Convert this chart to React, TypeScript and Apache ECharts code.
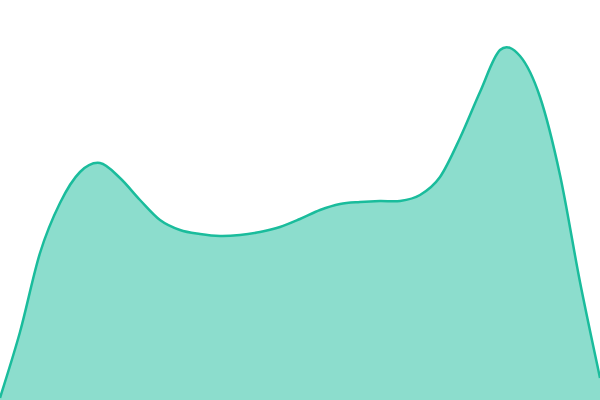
import { useEffect, useRef } from "react";
import * as echarts from "echarts";

// evenly spaced samples, left to right
const categories = [
  "0", "1", "2", "3", "4", "5", "6", "7", "8", "9", "10",
  "11", "12", "13", "14", "15", "16", "17", "18", "19", "20",
  "21", "22", "23", "24", "25", "26", "27", "28", "29", "30",
];
const heights = [
  2, 68, 147, 197, 228, 237, 222, 200, 180, 170, 166,
  164, 165, 168, 173, 181, 190, 196, 198, 199, 199,
  205, 223, 262, 308, 350, 344, 303, 225, 118, 22,
];

const LINE_COLOR = "#1abc9c";
const FILL_COLOR = "rgba(26, 188, 156, 0.5)";

// draws the whole curve once (on the first item) as a Catmull-Rom spline
// through the points placed by the axes
function renderCurve(params: any, api: any) {
  if (params.dataIndexInside !== 0) return null;
  const n = params.dataInsideLength;
  const pts: number[][] = [];
  for (let i = 0; i < n; i++) {
    pts.push(api.coord([api.value(0, i), api.value(1, i)]));
  }
  let d = `M${pts[0][0]},${pts[0][1]}`;
  for (let i = 0; i < n - 1; i++) {
    const p0 = pts[Math.max(0, i - 1)];
    const p1 = pts[i];
    const p2 = pts[i + 1];
    const p3 = pts[Math.min(n - 1, i + 2)];
    const c1x = p1[0] + (p2[0] - p0[0]) / 6;
    const c1y = p1[1] + (p2[1] - p0[1]) / 6;
    const c2x = p2[0] - (p3[0] - p1[0]) / 6;
    const c2y = p2[1] - (p3[1] - p1[1]) / 6;
    d += ` C${c1x},${c1y} ${c2x},${c2y} ${p2[0]},${p2[1]}`;
  }
  const base = api.coord([0, 0])[1];
  const area = `${d} L${pts[n - 1][0]},${base} L${pts[0][0]},${base} Z`;

  return {
    type: "group",
    children: [
      { type: "path", shape: { pathData: area }, style: { fill: FILL_COLOR } },
      {
        type: "path",
        shape: { pathData: d },
        style: { fill: "none", stroke: LINE_COLOR, lineWidth: 2.5 },
      },
    ],
  };
}

export default function App() {
  const chartRef = useRef<HTMLDivElement>(null);

  useEffect(() => {
    if (!chartRef.current) return;
    const chart = echarts.init(chartRef.current, undefined, { renderer: "svg" });

    chart.setOption({
      animation: false,
      grid: { left: 0, right: 0, top: 0, bottom: 0 },
      xAxis: { type: "category", data: categories, boundaryGap: false, show: false },
      yAxis: { type: "value", min: 0, max: 400, show: false },
      series: [
        {
          type: "custom",
          data: heights.map((v, i) => [i, v]),
          encode: { x: 0, y: 1 },
          renderItem: renderCurve,
          silent: true,
        },
      ],
    });

    return () => {
      chart.dispose();
    };
  }, []);

  return (
    <div
      ref={chartRef}
      style={{ position: "absolute", left: 0, top: 0, width: 600, height: 400 }}
    />
  );
}
